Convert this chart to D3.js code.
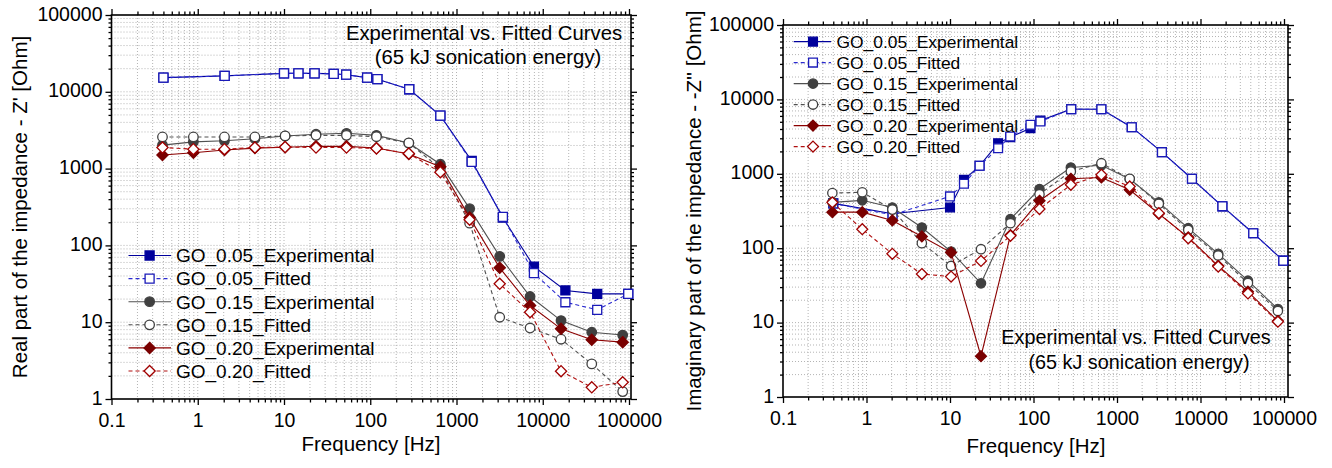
<!DOCTYPE html>
<html><head><meta charset="utf-8">
<script src="https://cdn.jsdelivr.net/npm/d3@7"></script>
<style>
body{margin:0;background:#fff}
svg{display:block}
text{font-family:"Liberation Sans",Arial,Helvetica,sans-serif;fill:#000}
</style>
</head><body>
<svg id="c" width="1332" height="468"></svg>
<script>
// ---------- DATA ----------
const freqA = [0.4, 2.05, 10, 14.7, 22.6, 37.7, 52.6, 92, 121, 283, 650, 1500, 3450, 7900, 18300, 42800, 98000];
const freqB = [0.39, 0.89, 2.04, 4.6, 10.3, 23.5, 53, 118, 280, 650, 1420, 3170, 7130, 16300, 37000, 84500];

// Real part Z'
const re005Exp = [15300, 16100, 17400, 17400, 17400, 17100, 16700, 15300, 14600, 10800, 4900, 1260, 230, 53, 25.9, 23.4, 23.4];
const re005Fit = [15300, 16100, 17400, 17400, 17400, 17100, 16700, 15300, 14600, 10800, 4900, 1220, 235, 43.5, 18.2, 14.5, 23.4];
const re015Exp = [2020, 2230, 2300, 2450, 2660, 2800, 2880, 2710, 2150, 1140, 301, 72, 21.6, 10.5, 7.4, 6.8];
const re015Fit = [2580, 2580, 2580, 2580, 2660, 2710, 2710, 2600, 2160, 1000, 195, 11.6, 8.4, 6.0, 2.86, 1.25];
const re020Exp = [1500, 1610, 1750, 1850, 1900, 1950, 1950, 1850, 1550, 1060, 230, 51, 16.5, 8.2, 5.9, 5.5];
const re020Fit = [1880, 1790, 1790, 1880, 1910, 1880, 1880, 1830, 1570, 898, 216, 31.6, 13.5, 2.3, 1.42, 1.65];

// Imaginary part -Z''
const im005Exp = [400, 290, 353, 830, 1280, 2580, 3100, 4100, 5200, 7400, 7380, 4230, 1955, 857, 365, 159, 68];
const im005Fit = [400, 280, 497, 735, 1280, 2210, 3170, 4550, 5040, 7380, 7380, 4230, 1955, 857, 365, 159, 68];
const im015Exp = [413, 440, 353, 190, 90, 33.7, 246, 625, 1216, 1300, 850, 413, 186, 84, 36.6, 15.2];
const im015Fit = [552, 564, 330, 117, 57.8, 97, 217, 530, 1075, 1390, 857, 395, 175, 80, 34, 14.3];
const im020Exp = [305, 305, 236, 144, 87.5, 3.53, 150, 434, 857, 893, 610, 290, 140, 58, 26, 10.5];
const im020Fit = [413, 180, 84, 45, 41.5, 67.5, 147, 336, 712, 970, 676, 296, 136, 56.6, 24.7, 10.3];

const xMajor = [0.1, 1, 10, 100, 1000, 10000, 100000];
const xTickLabels = ["0.1", "1", "10", "100", "1000", "10000", "100000"];
const yMajor = [1, 10, 100, 1000, 10000, 100000];
const yTickLabels = ["1", "10", "100", "1000", "10000", "100000"];
const seriesNames = ["GO_0.05_Experimental", "GO_0.05_Fitted", "GO_0.15_Experimental", "GO_0.15_Fitted", "GO_0.20_Experimental", "GO_0.20_Fitted"];
const xTitle = "Frequency [Hz]";
const yTitles = ["Real part of the impedance - Z' [Ohm]", "Imaginary part of the impedance - -Z'' [Ohm]"];
const noteLines = ["Experimental vs. Fitted Curves", "(65 kJ sonication energy)"];

// ---------- STYLE ----------
const styles = [
  {color:"#00009c", mcol:"#00009c", dash:null, marker:"square", filled:true},
  {color:"#2a2ad0", mcol:"#1a1ab8", dash:"4,3", marker:"square", filled:false},
  {color:"#505050", mcol:"#404040", dash:null, marker:"circle", filled:true},
  {color:"#505050", mcol:"#404040", dash:"4,3", marker:"circle", filled:false},
  {color:"#8b0000", mcol:"#7a0000", dash:null, marker:"diamond", filled:true},
  {color:"#b01010", mcol:"#a00000", dash:"4,3", marker:"diamond", filled:false}
];

function minorsOf(majors){
  const out=[];
  for(let i=0;i<majors.length-1;i++) for(let k=2;k<=9;k++) out.push(majors[i]*k);
  return out;
}
function markerPath(type, s){
  if(type==="square"){const h=s*0.5;return `M${-h},${-h}H${h}V${h}H${-h}Z`;}
  if(type==="circle"){const r=s*0.53;return `M${r},0A${r},${r} 0 1,1 ${-r},0A${r},${r} 0 1,1 ${r},0Z`;}
  const r=s*0.62;return `M0,${-r}L${r},0L0,${r}L${-r},0Z`;
}

const svg = d3.select("#c");

const panels = [
  { xr:[111.5, 629], yr:[399, 15], fr:[111.5, 15, 631, 399],
    data:[[freqA,re005Exp],[freqA,re005Fit],[freqB,re015Exp],[freqB,re015Fit],[freqB,re020Exp],[freqB,re020Fit]],
    yTitle:yTitles[0], yTitleX:20, xTitleX:371, xTitleY:451,
    legend:{x0:128.5, x1:171, mx:149.6, tx:176, y0:255.5, dy:23.1, fs:19},
    note:{x:[484,488], y:[40,64], fs:20.3},
    msize:9 },
  { xr:[783, 1284], yr:[397, 25], fr:[783, 25, 1288, 397],
    data:[[freqA,im005Exp],[freqA,im005Fit],[freqB,im015Exp],[freqB,im015Fit],[freqB,im020Exp],[freqB,im020Fit]],
    yTitle:yTitles[1], yTitleX:694, xTitleX:1036, xTitleY:453,
    legend:{x0:793.7, x1:831, mx:813, tx:836.5, y0:41.6, dy:21, fs:17.4},
    note:{x:[1136,1139], y:[344,369], fs:19.8},
    msize:8.8 }
];

panels.forEach(p=>{
  const x = d3.scaleLog().domain([0.1,100000]).range(p.xr);
  const y = d3.scaleLog().domain([1,100000]).range(p.yr);
  const [L,T,R,B] = p.fr;
  const g = svg.append("g");
  const xMinor = minorsOf(xMajor), yMinor = minorsOf(yMajor);

  // grid
  const grid = g.append("g").attr("stroke","#b4b4b4").attr("stroke-width",1).attr("stroke-dasharray","1,2");
  xMajor.concat(xMinor).forEach(v=>{
    const px=x(v); if(px<=L+0.5||px>=R-0.5) return;
    grid.append("line").attr("x1",px).attr("x2",px).attr("y1",T).attr("y2",B);
  });
  yMajor.concat(yMinor).forEach(v=>{
    const py=y(v); if(py<=T+0.5||py>=B-0.5) return;
    grid.append("line").attr("x1",L).attr("x2",R).attr("y1",py).attr("y2",py);
  });

  // axes (ticks outward on all four sides)
  function ax(axisGen, tr, vals, size, labels){
    const a = axisGen.tickValues(vals).tickSize(size).tickFormat(labels?((d,i)=>labels[i]):"");
    const sel = g.append("g").attr("transform",tr).call(a);
    sel.select(".domain").remove();
    sel.selectAll("line").attr("stroke","#000").attr("stroke-width",1.3);
    return sel;
  }
  const xb = ax(d3.axisBottom(x), `translate(0,${B})`, xMajor, 6, xTickLabels);
  xb.selectAll("text").attr("y",28).attr("dy",0).attr("font-size","19.5px").attr("fill","#000")
    .attr("font-family",'"Liberation Sans",Arial,sans-serif');
  ax(d3.axisBottom(x), `translate(0,${B})`, xMinor, 3.5, null);
  ax(d3.axisTop(x), `translate(0,${T})`, xMajor, 6, null);
  ax(d3.axisTop(x), `translate(0,${T})`, xMinor, 3.5, null);
  const yl = ax(d3.axisLeft(y), `translate(${L},0)`, yMajor, 6, yTickLabels);
  yl.selectAll("text").attr("x",-9).attr("dy",0).attr("y",5).attr("font-size","19.5px").attr("fill","#000")
    .attr("font-family",'"Liberation Sans",Arial,sans-serif');
  ax(d3.axisLeft(y), `translate(${L},0)`, yMinor, 3, null);
  ax(d3.axisRight(y), `translate(${R},0)`, yMajor, 6, null);
  ax(d3.axisRight(y), `translate(${R},0)`, yMinor, 3, null);

  // frame
  g.append("rect").attr("x",L).attr("y",T).attr("width",R-L).attr("height",B-T)
    .attr("fill","none").attr("stroke","#000").attr("stroke-width",1.6);

  // series
  const line = d3.line().x(d=>x(d[0])).y(d=>y(d[1]));
  p.data.forEach((dd,i)=>{
    const st = styles[i];
    const pts = dd[0].map((f,j)=>[f, dd[1][j]]);
    g.append("path").attr("d",line(pts)).attr("fill","none").attr("stroke",st.color)
      .attr("stroke-width",1.1).attr("stroke-dasharray",st.dash);
    g.selectAll(null).data(pts).enter().append("path")
      .attr("transform",d=>`translate(${x(d[0])},${y(d[1])})`)
      .attr("d",markerPath(st.marker,p.msize))
      .attr("fill",st.filled?st.mcol:"#fff").attr("stroke",st.mcol).attr("stroke-width",1.3);
  });

  // legend
  const lg = p.legend;
  seriesNames.forEach((name,i)=>{
    const st = styles[i], yy = lg.y0 + i*lg.dy;
    g.append("line").attr("x1",lg.x0).attr("x2",lg.x1).attr("y1",yy).attr("y2",yy)
      .attr("stroke",st.color).attr("stroke-width",1.1).attr("stroke-dasharray",st.dash);
    g.append("path").attr("transform",`translate(${lg.mx},${yy})`).attr("d",markerPath(st.marker,p.msize))
      .attr("fill",st.filled?st.mcol:"#fff").attr("stroke",st.mcol).attr("stroke-width",1.3);
    g.append("text").attr("x",lg.tx).attr("y",yy).attr("dy","0.36em").attr("font-size",lg.fs+"px").text(name);
  });

  // note
  noteLines.forEach((t,i)=>{
    g.append("text").attr("x",p.note.x[i]).attr("y",p.note.y[i]).attr("text-anchor","middle")
      .attr("font-size",p.note.fs+"px").text(t);
  });

  // titles
  g.append("text").attr("x",p.xTitleX).attr("y",p.xTitleY).attr("text-anchor","middle")
    .attr("font-size","20.5px").text(xTitle);
  g.append("text").attr("transform",`translate(${p.yTitleX},${(T+B)/2}) rotate(-90)`)
    .attr("text-anchor","middle").attr("dy","0.36em").attr("font-size","20.5px").text(p.yTitle);
});
</script>
</body></html>
